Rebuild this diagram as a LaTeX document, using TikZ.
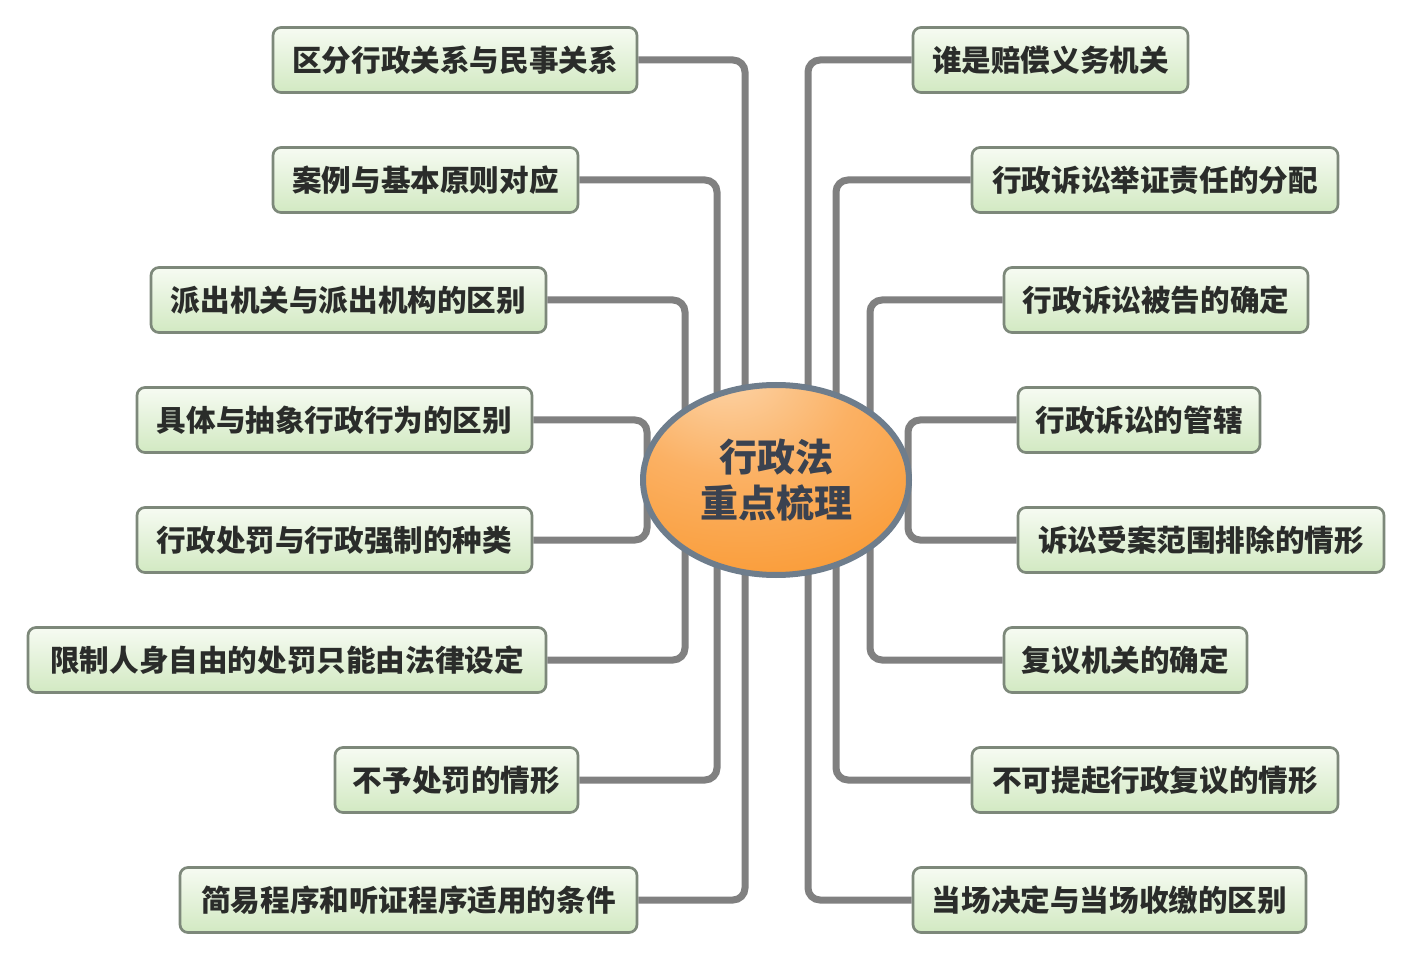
\documentclass[tikz,border=0pt]{standalone}
\usepackage{fontspec}
\newfontfamily\cjk{Noto Sans CJK SC}
\usetikzlibrary{shapes.geometric,calc}

\definecolor{linkgray}{HTML}{808080}
\definecolor{boxedge}{HTML}{7D887A}
\definecolor{boxtop}{HTML}{F6FBF2}
\definecolor{boxbot}{HTML}{D2E9C2}
\definecolor{txtgray}{HTML}{2A2C2A}
\definecolor{eggedge}{HTML}{6E7D8C}
\definecolor{eggtxt}{HTML}{3A4250}
\definecolor{peach}{HTML}{FCD6AC}
\definecolor{orangeA}{HTML}{FBB164}
\definecolor{orangeB}{HTML}{F88C16}

% shading of the centre topic
\pgfdeclareradialshading{eggshade}{\pgfpoint{-10bp}{30bp}}{%
  color(0bp)=(peach); color(22bp)=(orangeA); color(62bp)=(orangeB); color(100bp)=(orangeB)}

\begin{document}
\begin{tikzpicture}[x=0.75pt,y=-0.75pt]
      \tikzstyle{topic}=[draw=boxedge,line width=2pt,rounded corners=6pt,
        top color=boxtop,bottom color=boxbot,minimum height=48.75pt,inner sep=0pt,
        text=txtgray,font=\cjk\bfseries\fontsize{22.2pt}{26pt}\selectfont]
      \tikzstyle{link}=[draw=linkgray,line width=5.25pt,rounded corners=9pt]
      \useasboundingbox (0,0) rectangle (1414,962);

      \coordinate (c) at (776,480);

      % left side
      \node[topic,minimum width=273pt]    (l1) at (455,60)   {区分行政关系与民事关系};
      \node[topic,minimum width=228.75pt] (l2) at (425.5,180) {案例与基本原则对应};
      \node[topic,minimum width=296.25pt] (l3) at (348.5,300) {派出机关与派出机构的区别};
      \node[topic,minimum width=296.25pt] (l4) at (334.5,420) {具体与抽象行政行为的区别};
      \node[topic,minimum width=296.25pt] (l5) at (334.5,540) {行政处罚与行政强制的种类};
      \node[topic,minimum width=388.5pt]  (l6) at (287,660)   {限制人身自由的处罚只能由法律设定};
      \node[topic,minimum width=182.25pt] (l7) at (456.5,780) {不予处罚的情形};
      \node[topic,minimum width=342.75pt] (l8) at (408.5,900) {简易程序和听证程序适用的条件};

      % right side
      \node[topic,minimum width=206.25pt] (r1) at (1050.5,60) {谁是赔偿义务机关};
      \node[topic,minimum width=274.5pt]  (r2) at (1155,180)  {行政诉讼举证责任的分配};
      \node[topic,minimum width=228pt]    (r3) at (1156,300)  {行政诉讼被告的确定};
      \node[topic,minimum width=181.5pt]  (r4) at (1139,420)  {行政诉讼的管辖};
      \node[topic,minimum width=274.5pt]  (r5) at (1201,540)  {诉讼受案范围排除的情形};
      \node[topic,minimum width=182.25pt] (r6) at (1125.5,660) {复议机关的确定};
      \node[topic,minimum width=274.5pt]  (r7) at (1155,780)  {不可提起行政复议的情形};
      \node[topic,minimum width=294.75pt] (r8) at (1109.5,900) {当场决定与当场收缴的区别};

      \draw[link] (l1.east) -| ($(c)+(-31,0)$);
      \draw[link] (l2.east) -| ($(c)+(-59,0)$);
      \draw[link] (l3.east) -| ($(c)+(-91,0)$);
      \draw[link] (l4.east) -| ($(c)+(-129,0)$);
      \draw[link] (l5.east) -| ($(c)+(-129,0)$);
      \draw[link] (l6.east) -| ($(c)+(-91,0)$);
      \draw[link] (l7.east) -| ($(c)+(-59,0)$);
      \draw[link] (l8.east) -| ($(c)+(-31,0)$);

      \draw[link] (r1.west) -| ($(c)+(32,0)$);
      \draw[link] (r2.west) -| ($(c)+(60,0)$);
      \draw[link] (r3.west) -| ($(c)+(94,0)$);
      \draw[link] (r4.west) -| ($(c)+(132,0)$);
      \draw[link] (r5.west) -| ($(c)+(132,0)$);
      \draw[link] (r6.west) -| ($(c)+(94,0)$);
      \draw[link] (r7.west) -| ($(c)+(60,0)$);
      \draw[link] (r8.west) -| ($(c)+(32,0)$);

      \node[ellipse,draw=eggedge,line width=4.5pt,shading=eggshade,
        minimum width=199.5pt,minimum height=142.5pt,inner sep=0pt,align=center,
        text=eggtxt,font=\cjk\bfseries\fontsize{28.5pt}{35pt}\selectfont]
        (topic) at (c) {行政法\\重点梳理};
    \end{tikzpicture}
\end{document}
